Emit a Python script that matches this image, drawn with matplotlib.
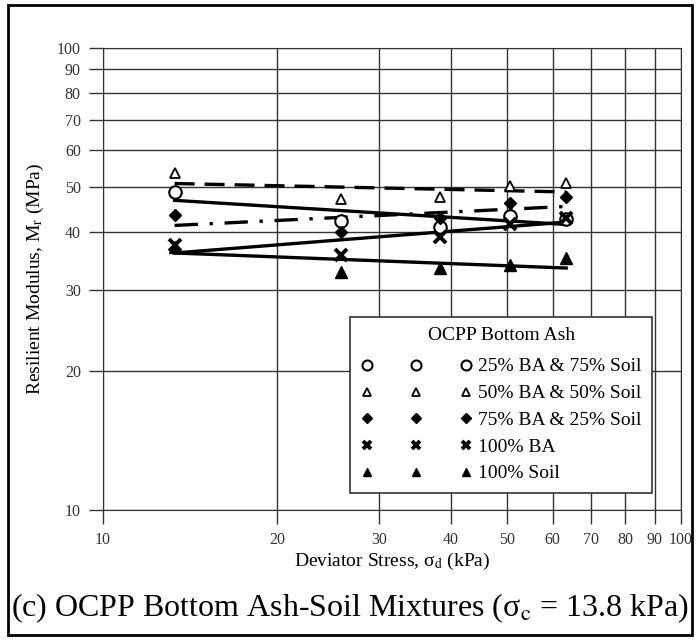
import matplotlib
matplotlib.use("Agg")
import matplotlib.pyplot as plt
from matplotlib.lines import Line2D
from matplotlib.patches import Rectangle
from matplotlib.ticker import NullLocator

plt.rcParams['font.family'] = ['Liberation Serif', 'DejaVu Serif']
plt.rcParams['mathtext.fontset'] = 'stix'

# deviator stress (kPa) for the five loading steps
stress = [13.3, 25.8, 38.3, 50.7, 63.3]

# resilient modulus (MPa)
mr_25ba = [48.7, 42.2, 41.0, 43.3, 42.7]
mr_50ba = [53.7, 47.1, 47.7, 50.2, 51.0]
mr_75ba = [43.4, 40.0, 42.9, 46.3, 47.5]
mr_100ba = [37.5, 35.7, 38.9, 41.6, 42.9]
mr_soil = [37.0, 32.8, 33.4, 33.9, 35.1]

# power-law trend lines (end points)
fit_x = [13.3, 63.3]
fit_25ba = [46.8, 41.5]
fit_50ba = [50.9, 48.8]
fit_75ba = [41.3, 45.4]
fit_100ba = [36.0, 42.0]
fit_soil = [36.0, 33.4]

labels = ['25% BA & 75% Soil', '50% BA & 50% Soil', '75% BA & 25% Soil',
          '100% BA', '100% Soil']
ticks = [10, 20, 30, 40, 50, 60, 70, 80, 90, 100]

fig = plt.figure(figsize=(7, 6.4), dpi=100)
ax = fig.add_axes([103/700, 1 - 510/640, 578/700, 462/640])

series = [
    (mr_25ba, fit_25ba, dict(marker='o', ms=9, mfc='white', mec='black', mew=1.5), '-'),
    (mr_50ba, fit_50ba, dict(marker='^', ms=7, mfc='white', mec='black', mew=1.3), (0, (6, 3))),
    (mr_75ba, fit_75ba, dict(marker='D', ms=6.5, mfc='black', mec='black', mew=1), (0, (7, 3.5, 1, 3.5))),
    (mr_100ba, fit_100ba, dict(marker='x', ms=8, mec='black', mew=2.8), '-'),
    (mr_soil, fit_soil, dict(marker='^', ms=8, mfc='black', mec='black', mew=1), '-'),
]

handles = []
for vals, fit, mk, ls in series:
    ax.plot(fit_x, fit, color='black', lw=2.4, linestyle=ls, zorder=3)
    ax.plot(stress, vals, linestyle='none', zorder=4, **mk)
    handles.append(Line2D([], [], linestyle='none', **mk))

ax.set_xscale('log')
ax.set_yscale('log')
ax.set_xlim(10, 100)
ax.set_ylim(10, 100)
ax.set_xticks(ticks)
ax.set_yticks(ticks)
ax.set_xticklabels([str(t) for t in ticks])
ax.set_yticklabels([str(t) for t in ticks])
ax.xaxis.set_minor_locator(NullLocator())
ax.yaxis.set_minor_locator(NullLocator())
ax.tick_params(direction='out', length=10, width=1, pad=6, labelsize=11.5,
               color='#333333', labelcolor='#333333')
ax.grid(True, color='#333333', lw=1)
for s in ax.spines.values():
    s.set_color('#333333')

ax.set_xlabel('Deviator Stress, σ$_\\mathrm{d}$ (kPa)', fontsize=14, labelpad=2)
ax.set_ylabel('Resilient Modulus, M$_\\mathrm{r}$ (MPa)', fontsize=14, labelpad=8)

leg = ax.legend(handles, labels, title='OCPP Bottom Ash', numpoints=3, markerscale=0.8,
                loc='lower left', bbox_to_anchor=((350 - 103) / 578, (510 - 493) / 462),
                fontsize=14, title_fontsize=14, handlelength=5.7, handletextpad=0.35,
                handleheight=0.6, labelspacing=0.5, borderpad=0.55, borderaxespad=0,
                fancybox=False, framealpha=1, edgecolor='#333333')
leg.get_frame().set_linewidth(1.2)
leg._legend_box.sep = 10

fig.text(0.5, 1 - 608/640, '(c) OCPP Bottom Ash-Soil Mixtures (σ$_\\mathrm{c}$ = 13.8 kPa)',
         ha='center', va='center', fontsize=23)

fig.patches.append(Rectangle((8/700, 5/640), 684/700, 630/640, transform=fig.transFigure,
                             fill=False, edgecolor='black', lw=2))

fig.savefig('out.png', dpi=100)
